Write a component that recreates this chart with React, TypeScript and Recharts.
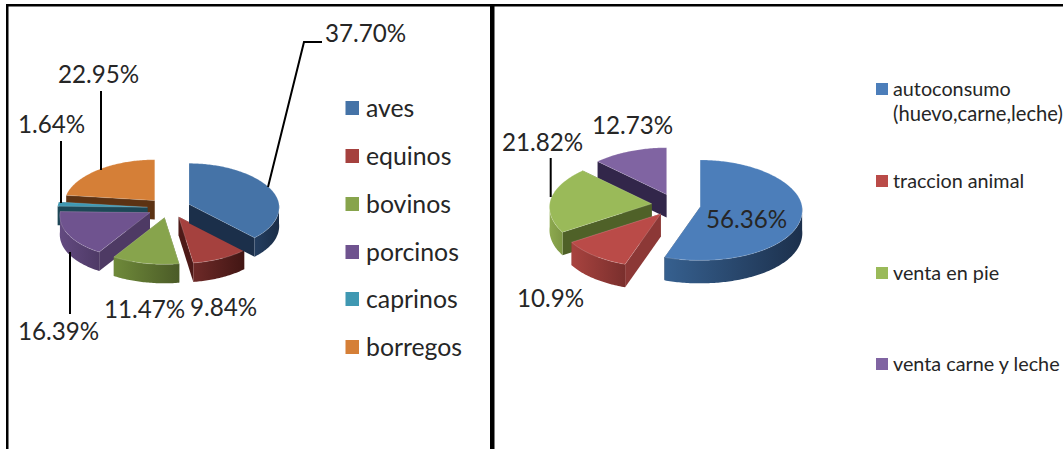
import React from "react";
import { PieChart, Pie, Cell } from "recharts";

// left chart: tipo de animal
const leftNames = ["aves", "equinos", "bovinos", "porcinos", "caprinos", "borregos"];
const leftValues = [37.7, 9.84, 11.47, 16.39, 1.64, 22.95];
const leftLabels = ["37.70%", "9.84%", "11.47%", "16.39%", "1.64%", "22.95%"];
const leftFace = ["#4573A7", "#A5413E", "#87A44C", "#6F538F", "#3F98B2", "#D57F37"];
const leftSide = ["#1B2F4A", "#4E1A18", "#50622A", "#4E3A64", "#1D4756", "#5C3213"];
const leftWallA = ["#243E60", "#6E2A28", "#6F8A3A", "#634A80", "#2A6A80", "#7A4419"];
const leftWallB = ["#1A2D47", "#421614", "#4B5B27", "#4E3A66", "#1D4756", "#5C3213"];
const leftLabelPos = [[325, 42], [190, 316], [104, 318], [18, 340], [18, 133], [58, 83]];
const leftLeaders = [
  "M268 187L304 42L322 42",
  "",
  "",
  "M70 252L70 314",
  "M61 141L61 203",
  "M101 91L101 170",
];

// right chart: destino
const rightNames = ["autoconsumo", "traccion animal", "venta en pie", "venta carne y leche"];
const rightValues = [56.36, 10.9, 21.82, 12.73];
const rightLabels = ["56.36%", "10.9%", "21.82%", "12.73%"];
const rightFace = ["#4C7EBA", "#BA4B48", "#9ABA59", "#8064A2"];
const rightSide = ["#1D324E", "#8C3836", "#4F6128", "#32264A"];
const rightWallA = ["#36608F", "#A8433F", "#8DA94F", "#5D4878"];
const rightWallB = ["#1C304C", "#7A2F2D", "#7D9744", "#32264A"];
const rightLabelPos = [[706, 228], [517, 307], [502, 151], [592, 134]];
const rightLeaders = ["", "", "M550.7 158L550.7 197", ""];

const TEXT = "#262626";
const FONT = "Lato, sans-serif";
const EXPLODE = 0.24;
const RAD = Math.PI / 180;
// perspective: the near half of the ellipse is a bit larger than the far one
const NARROW = 0.06;
const NEAR = 0.14;

const buildRows = (
  names: string[],
  values: number[],
  labels: string[],
  face: string[],
  side: string[],
  wallA: string[],
  wallB: string[],
  pos: number[][],
  leaders: string[]
) =>
  names
    .map((name, i) => ({
      name,
      value: values[i],
      label: labels[i],
      face: face[i],
      side: side[i],
      wallA: wallA[i],
      wallB: wallB[i],
      pos: pos[i],
      leader: leaders[i],
    }))
    .reverse(); // back slices have to be painted first

const leftRows = buildRows(leftNames, leftValues, leftLabels, leftFace, leftSide, leftWallA, leftWallB, leftLabelPos, leftLeaders);
const rightRows = buildRows(rightNames, rightValues, rightLabels, rightFace, rightSide, rightWallA, rightWallB, rightLabelPos, rightLeaders);

// extruded, exploded slice on an ellipse
const slice3d = (flat: number, depth: number, prefix: string) => (props: any) => {
  const { cx, cy, outerRadius, startAngle, endAngle, payload } = props;
  const row = payload?.face ? payload : props;
  const rx = outerRadius;
  const ry = outerRadius * flat;
  const mid = ((startAngle + endAngle) / 2) * RAD;
  const ox = cx + EXPLODE * rx * Math.cos(mid);
  const oy = cy - EXPLODE * ry * Math.sin(mid);
  const pt = (deg: number) => {
    const s = Math.sin(deg * RAD);
    return [ox + rx * Math.cos(deg * RAD) * (1 - NARROW * s), oy - ry * s * (s < 0 ? 1 + NEAR : 1)];
  };
  const arc = (a1: number, a2: number) => {
    const out: number[][] = [];
    const n = Math.max(2, Math.ceil(a2 - a1));
    for (let i = 0; i <= n; i++) out.push(pt(a1 + ((a2 - a1) * i) / n));
    return out;
  };
  const poly = (pts: number[][]) => "M" + pts.map((p) => `${p[0].toFixed(2)} ${p[1].toFixed(2)}`).join("L") + "Z";
  const drop = (pts: number[][]) => pts.map((p) => [p[0], p[1] + depth]).reverse();
  const s = pt(startAngle);
  const e = pt(endAngle);
  const top = poly([[ox, oy], ...arc(startAngle, endAngle)]);
  const sideA = poly([[ox, oy], s, [s[0], s[1] + depth], [ox, oy + depth]]);
  const sideB = poly([[ox, oy], e, [e[0], e[1] + depth], [ox, oy + depth]]);
  const walls: string[] = [];
  for (const k of [0, 1]) {
    const a1 = Math.max(startAngle, 180 + 360 * k);
    const a2 = Math.min(endAngle, 360 + 360 * k);
    if (a2 > a1) {
      const edge = arc(a1, a2);
      walls.push(poly([...edge, ...drop(edge)]));
    }
  }
  const gid = `${prefix}-${row.name.replace(/\W/g, "")}`;
  return (
    <g>
      <defs>
        <linearGradient id={gid} x1="0" y1="0" x2="1" y2="0">
          <stop offset="0" stopColor={row.wallA} />
          <stop offset="1" stopColor={row.wallB} />
        </linearGradient>
      </defs>
      <path d={sideA} fill={row.side} />
      <path d={sideB} fill={row.side} />
      {walls.map((d, i) => (
        <path key={i} d={d} fill={`url(#${gid})`} />
      ))}
      <path d={top} fill={row.face} stroke="#ffffff" strokeOpacity={0.25} strokeWidth={0.7} />
    </g>
  );
};

const renderLabel = (props: any) => {
  const row = props.payload?.pos ? props.payload : props;
  return (
    <g key={row.name}>
      {row.leader && <path d={row.leader} fill="none" stroke="#000" strokeWidth={2} />}
      <text x={row.pos[0]} y={row.pos[1]} fontFamily={FONT} fontSize={24.2} fill={TEXT}>
        {row.label}
      </text>
    </g>
  );
};

const leftLegendY = [101, 149, 197, 245, 292, 340];
const rightLegendY = [83, 175, 267, 358];

export default function App() {
  return (
    <div style={{ position: "fixed", left: 0, top: 0, width: 1063, height: 449, overflow: "hidden", background: "#fff" }}>
      <PieChart width={1063} height={449} margin={{ top: 0, right: 0, bottom: 0, left: 0 }}>
        <Pie
          data={leftRows}
          dataKey="value"
          nameKey="name"
          cx={169}
          cy={208}
          outerRadius={90}
          startAngle={90}
          endAngle={450}
          stroke="none"
          isAnimationActive={false}
          shape={slice3d(0.455, 19, "l")}
          label={renderLabel}
          labelLine={false}
        >
          {leftRows.map((r) => (
            <Cell key={r.name} fill={r.face} />
          ))}
        </Pie>
        <Pie
          data={rightRows}
          dataKey="value"
          nameKey="name"
          cx={676}
          cy={205}
          outerRadius={102}
          startAngle={90}
          endAngle={450}
          stroke="none"
          isAnimationActive={false}
          shape={slice3d(0.46, 23, "r")}
          label={renderLabel}
          labelLine={false}
        >
          {rightRows.map((r) => (
            <Cell key={r.name} fill={r.face} />
          ))}
        </Pie>
      </PieChart>
      <svg width={1063} height={449} style={{ position: "absolute", left: 0, top: 0, pointerEvents: "none" }}>
        <rect x={6} y={4} width={1057} height={2.5} fill="#000" />
        <rect x={6} y={4} width={2.5} height={445} fill="#000" />
        <rect x={490} y={4} width={4.5} height={445} fill="#000" />
        {leftNames.map((name, i) => (
          <g key={name}>
            <rect x={345.5} y={leftLegendY[i]} width={13.5} height={14} fill={leftFace[i]} />
            <text x={366} y={leftLegendY[i] + 16} fontFamily={FONT} fontSize={24.8} fill={TEXT}>
              {name}
            </text>
          </g>
        ))}
        {rightNames.map((name, i) => (
          <g key={name}>
            <rect x={876} y={rightLegendY[i]} width={12} height={12} fill={rightFace[i]} />
            <text x={893} y={rightLegendY[i] + 13} fontFamily={FONT} fontSize={19.8} fill={TEXT}>
              {name}
            </text>
          </g>
        ))}
        <text x={893} y={121} fontFamily={FONT} fontSize={20.2} fill={TEXT}>
          (huevo,carne,leche)
        </text>
      </svg>
    </div>
  );
}
